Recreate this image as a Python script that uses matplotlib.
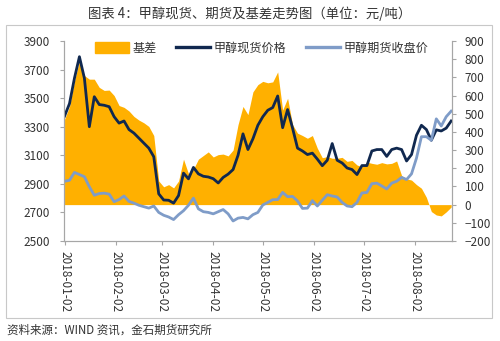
import matplotlib
matplotlib.use("Agg")
import matplotlib.pyplot as plt
import matplotlib.dates as mdates
from matplotlib.patches import Rectangle, Patch
from matplotlib.lines import Line2D
import numpy as np
import pandas as pd

plt.rcParams['font.family'] = ['Noto Sans CJK SC', 'DejaVu Sans']

# sampled every 3 calendar days from 2018-01-02
dates = pd.date_range('2018-01-02', periods=79, freq='3D')

spot = [3374, 3462, 3640, 3790, 3640, 3300, 3510, 3455, 3450, 3440,
        3370, 3325, 3340, 3280, 3255, 3220, 3185, 3150, 3090, 2830,
        2787, 2785, 2765, 2818, 2975, 2935, 3015, 2970, 2953, 2948,
        2936, 2906, 2945, 2968, 3000, 3100, 3250, 3140, 3215, 3310,
        3370, 3415, 3434, 3515, 3293, 3420, 3290, 3150, 3130, 3105,
        3115, 3073, 3027, 3065, 3182, 3065, 3046, 3011, 3000, 2965,
        3028, 3028, 3130, 3140, 3140, 3092, 3140, 3150, 3140, 3060,
        3105, 3240, 3310, 3280, 3205, 3278, 3270, 3290, 3340]

futures = [2918, 2925, 2980, 2965, 2950, 2880, 2820, 2832, 2835, 2828,
           2775, 2790, 2815, 2777, 2765, 2750, 2740, 2730, 2745, 2700,
           2680, 2668, 2650, 2684, 2712, 2750, 2800, 2725, 2705, 2700,
           2690, 2705, 2720, 2690, 2640, 2660, 2665, 2655, 2684, 2700,
           2752, 2770, 2789, 2790, 2840, 2810, 2812, 2780, 2728, 2730,
           2782, 2745, 2785, 2824, 2815, 2808, 2770, 2745, 2740, 2770,
           2836, 2840, 2901, 2905, 2885, 2864, 2905, 2918, 2945, 2930,
           2970, 3080, 3230, 3230, 3205, 3355, 3305, 3370, 3409]

basis = [470, 540, 680, 790, 710, 690, 690, 645, 628, 630,
         600, 545, 535, 515, 485, 465, 450, 430, 380, 130,
         98, 110, 92, 130, 250, 170, 195, 250, 270, 290,
         262, 275, 278, 268, 300, 440, 540, 495, 620, 660,
         678, 670, 675, 730, 520, 585, 440, 393, 380, 365,
         380, 310, 258, 264, 255, 255, 260, 238, 243, 218,
         208, 234, 227, 222, 231, 224, 227, 240, 160, 142,
         135, 110, 90, 40, -38, -57, -62, -40, -13]

tick_labels = ['2018-01-02', '2018-02-02', '2018-03-02', '2018-04-02',
               '2018-05-02', '2018-06-02', '2018-07-02', '2018-08-02']

orange = '#FFB000'
navy = '#10284F'
steel = '#7F9CC8'
grey = '#A6A6A6'
txt = '#333333'

fig = plt.figure(figsize=(5, 3.41), dpi=100)
fig.patches.append(Rectangle((6 / 500, 1 - 318 / 341), 486 / 500, 293 / 341,
                             transform=fig.transFigure, fill=False,
                             edgecolor='#C8C8C8', linewidth=0.8))

ax = fig.add_axes([0.128, 0.2933, 0.776, 0.5865])
ax2 = ax.twinx()

ax2.fill_between(dates, 0, basis, color=orange, linewidth=0)
ax.plot(dates, spot, color=navy, linewidth=2.0)
ax.plot(dates, futures, color=steel, linewidth=2.0)

# lines above the basis area
ax.set_zorder(ax2.get_zorder() + 1)
ax.patch.set_visible(False)

ax.set_ylim(2500, 3900)
ax.set_yticks(np.arange(2500, 3901, 200))
ax2.set_ylim(-200, 900)
ax2.set_yticks(np.arange(-200, 901, 100))
x0 = pd.Timestamp('2018-01-02') - pd.Timedelta(hours=8)
x1 = pd.Timestamp('2018-01-02') + pd.Timedelta(days=234.5)
ax.set_xlim(x0, x1)
ax.set_xticks(pd.to_datetime(tick_labels))
ax.xaxis.set_major_formatter(mdates.DateFormatter('%Y-%m-%d'))

for a in (ax, ax2):
    for s in a.spines.values():
        s.set_color(grey)
        s.set_linewidth(0.8)
    a.spines['top'].set_visible(False)
    a.tick_params(colors=grey, labelcolor=txt, labelsize=8.5, length=3, width=0.8)

ax.tick_params(axis='y', pad=7)
ax2.tick_params(axis='y', pad=6)
ax.tick_params(axis='x', pad=4)
for lbl in ax.get_xticklabels():
    lbl.set_rotation(-90)
    lbl.set_fontsize(8.5)

handles = [Patch(color=orange),
           Line2D([], [], color=navy, linewidth=2.4),
           Line2D([], [], color=steel, linewidth=2.4)]
ax.legend(handles, ['基差', '甲醇现货价格', '甲醇期货收盘价'], loc='upper center',
          bbox_to_anchor=(0.51, 1.05), ncol=3, frameon=False, fontsize=8.7,
          handlelength=2.8, handleheight=1.0, columnspacing=1.6,
          handletextpad=0.3, labelcolor=txt)

fig.text(0.5, 1 - 14 / 341, '图表 4：甲醇现货、期货及基差走势图（单位：元/吨）',
         ha='center', va='center', fontsize=9.6, color=txt)
fig.text(7 / 500, 1 - 330 / 341, '资料来源：WIND 资讯，金石期货研究所',
         ha='left', va='center', fontsize=8.3, color=txt)

fig.savefig('out.png', dpi=100)
